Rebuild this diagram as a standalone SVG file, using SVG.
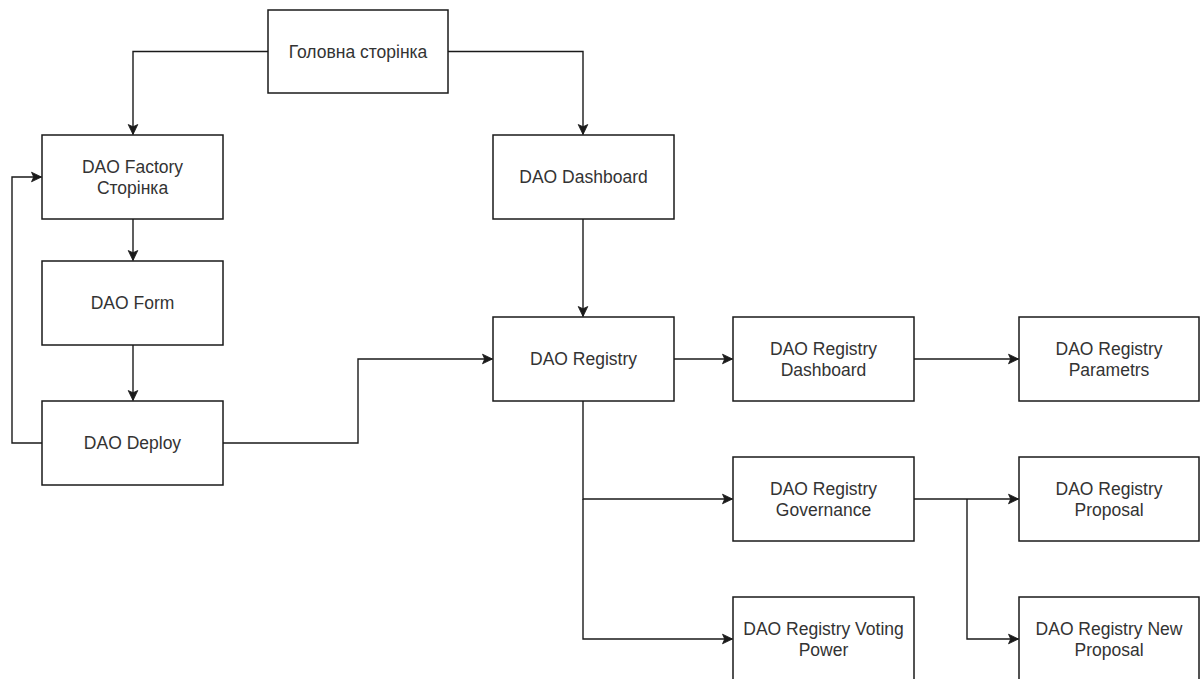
<svg xmlns="http://www.w3.org/2000/svg" width="1201" height="679" viewBox="0 0 1201 679">
  <defs>
    <style>
      .node rect { fill: #ffffff; stroke: #1a1a1a; stroke-width: 1.5; }
      .node text { font-family: "Liberation Sans", Arial, sans-serif; font-size: 17.5px; fill: #333333; text-anchor: middle; }
      .edges path { fill: none; stroke: #1a1a1a; stroke-width: 1.4; marker-end: url(#arrow); }
      .edges path.plain { marker-end: none; }
    </style>
    <marker id="arrow" markerUnits="userSpaceOnUse" markerWidth="12" markerHeight="12" viewBox="0 0 12 12" refX="11" refY="6" orient="auto">
      <path d="M1,1.2 L11,6 L1,10.8 L3.2,6 Z" fill="#1a1a1a" stroke="#1a1a1a" stroke-width="0.8" stroke-linejoin="miter"/>
    </marker>
  </defs>
  <rect width="1201" height="679" fill="#ffffff"/>

  <!-- connectors -->
  <g id="edges" class="edges">
    <path d="M268,51.5 H133 V134.5"/>
    <path d="M448,51.5 H583 V134.5"/>
    <path d="M133,219 V260.5"/>
    <path d="M133,345 V400.5"/>
    <path d="M42,443 H12 V177 H41.5"/>
    <path d="M223,443 H358 V359 H492.5"/>
    <path d="M583,219 V316.5"/>
    <path d="M674,359 H732.5"/>
    <path d="M914,359 H1018.5"/>
    <path d="M583,401 V499 H732.5"/>
    <path d="M583,499 V639 H732.5"/>
    <path d="M914,499 H1018.5"/>
    <path d="M967,499 V639 H1018.5"/>
  </g>

  <!-- nodes -->
  <g id="node-home" class="node">
    <rect x="268" y="10" width="180" height="83"/>
    <text x="358" y="57.5">Головна сторінка</text>
  </g>
  <g id="node-factory" class="node">
    <rect x="42" y="135" width="181" height="84"/>
    <text x="132.5" y="172.5">DAO Factory</text>
    <text x="132.5" y="193.5">Сторінка</text>
  </g>
  <g id="node-form" class="node">
    <rect x="42" y="261" width="181" height="84"/>
    <text x="132.5" y="309">DAO Form</text>
  </g>
  <g id="node-deploy" class="node">
    <rect x="42" y="401" width="181" height="84"/>
    <text x="132.5" y="449">DAO Deploy</text>
  </g>
  <g id="node-dashboard" class="node">
    <rect x="493" y="135" width="181" height="84"/>
    <text x="583.5" y="183">DAO Dashboard</text>
  </g>
  <g id="node-registry" class="node">
    <rect x="493" y="317" width="181" height="84"/>
    <text x="583.5" y="365">DAO Registry</text>
  </g>
  <g id="node-registry-dashboard" class="node">
    <rect x="733" y="317" width="181" height="84"/>
    <text x="823.5" y="354.5">DAO Registry</text>
    <text x="823.5" y="375.5">Dashboard</text>
  </g>
  <g id="node-registry-parametrs" class="node">
    <rect x="1019" y="317" width="180" height="84"/>
    <text x="1109" y="354.5">DAO Registry</text>
    <text x="1109" y="375.5">Parametrs</text>
  </g>
  <g id="node-registry-governance" class="node">
    <rect x="733" y="457" width="181" height="84"/>
    <text x="823.5" y="494.5">DAO Registry</text>
    <text x="823.5" y="515.5">Governance</text>
  </g>
  <g id="node-registry-proposal" class="node">
    <rect x="1019" y="457" width="180" height="84"/>
    <text x="1109" y="494.5">DAO Registry</text>
    <text x="1109" y="515.5">Proposal</text>
  </g>
  <g id="node-registry-voting" class="node">
    <rect x="733" y="597" width="181" height="84"/>
    <text x="823.5" y="634.5">DAO Registry Voting</text>
    <text x="823.5" y="655.5">Power</text>
  </g>
  <g id="node-registry-new-proposal" class="node">
    <rect x="1019" y="597" width="180" height="84"/>
    <text x="1109" y="634.5">DAO Registry New</text>
    <text x="1109" y="655.5">Proposal</text>
  </g>
</svg>
